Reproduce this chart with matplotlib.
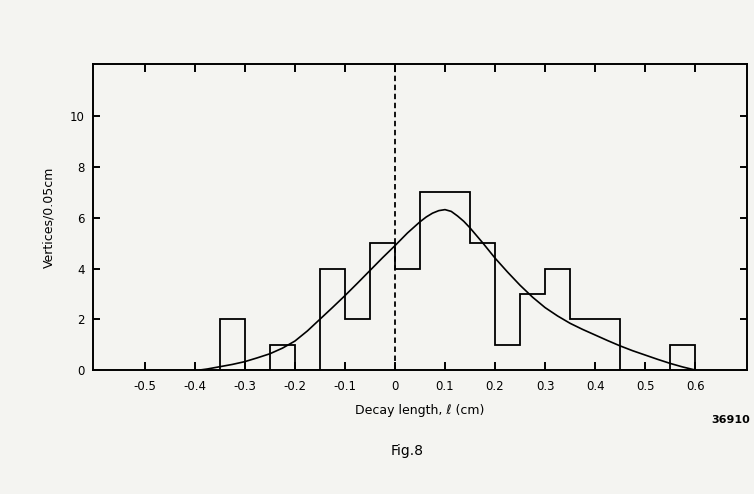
import numpy as np
import matplotlib
matplotlib.use("Agg")
import matplotlib.pyplot as plt

plt.rcParams.update({
    "font.family": "DejaVu Sans", "font.size": 8.5,
    "axes.linewidth": 1.4,
})

# histogram: bin edges (cm) and counts per 0.05 cm bin
bin_edges = [-0.35, -0.30, -0.25, -0.20, -0.15, -0.10, -0.05, 0.00, 0.05, 0.10,
             0.15, 0.20, 0.25, 0.30, 0.35, 0.40, 0.45, 0.50, 0.55, 0.60]
counts = [2, 0, 1, 0, 4, 2, 5, 4, 7, 7, 5, 1, 3, 4, 2, 2, 0, 0, 1]

# fitted curve
fit_x = [-0.39, -0.375, -0.35, -0.325, -0.30, -0.275, -0.25, -0.225, -0.20, -0.175,
         -0.15, -0.125, -0.10, -0.075, -0.05, -0.025, 0.00, 0.025, 0.05, 0.0625,
         0.075, 0.0875, 0.10, 0.1125, 0.125, 0.1375, 0.15, 0.175, 0.20, 0.225,
         0.25, 0.275, 0.30, 0.325, 0.35, 0.375, 0.40, 0.425, 0.45, 0.475,
         0.50, 0.525, 0.55, 0.575, 0.60]
fit_y = [0.0, 0.04, 0.13, 0.22, 0.33, 0.48, 0.64, 0.86, 1.14, 1.54,
         2.00, 2.46, 2.93, 3.42, 3.92, 4.42, 4.90, 5.40, 5.84, 6.03,
         6.18, 6.28, 6.32, 6.25, 6.07, 5.86, 5.60, 5.02, 4.41, 3.86,
         3.34, 2.87, 2.46, 2.13, 1.84, 1.60, 1.38, 1.16, 0.95, 0.76,
         0.59, 0.42, 0.26, 0.12, 0.0]

x_ticks = [-0.5, -0.4, -0.3, -0.2, -0.1, 0.0, 0.1, 0.2, 0.3, 0.4, 0.5, 0.6]
x_labels = ["-0.5", "-0.4", "-0.3", "-0.2", "-0.1", "0", "0.1", "0.2", "0.3", "0.4", "0.5", "0.6"]
y_ticks = [0, 2, 4, 6, 8, 10]

BG = "#f4f4f1"
fig = plt.figure(figsize=(7.54, 4.94), dpi=100, facecolor=BG)
ax = fig.add_axes([0.123, 0.251, 0.868, 0.619])
ax.set_facecolor(BG)

ax.stairs(counts, bin_edges, color="black", lw=1.3, baseline=0)
ax.plot(fit_x, fit_y, color="black", lw=1.2)
ax.axvline(0, color="black", lw=1.3, ls=(0, (3, 2)))

ax.set_xlim(-0.604, 0.704)
ax.set_ylim(0, 12.05)
ax.set_xticks(x_ticks)
ax.set_xticklabels(x_labels)
ax.set_yticks(y_ticks)
ax.tick_params(axis="both", direction="in", top=True, right=True,
               length=6, width=1.4, pad=6)
ax.tick_params(axis="x", pad=7)
ax.tick_params(axis="y", labelright=False, length=5)

ax.set_xlabel("Decay length, ℓ (cm)", fontsize=9, labelpad=8)
ax.set_ylabel("Vertices/0.05cm", fontsize=9, labelpad=10)

fig.text(0.995, 0.150, "36910", fontsize=8, fontweight="bold", ha="right", va="center")
fig.text(0.54, 0.088, "Fig.8", fontsize=10, ha="center", va="center")

fig.savefig("out.png", dpi=100, facecolor=BG)
